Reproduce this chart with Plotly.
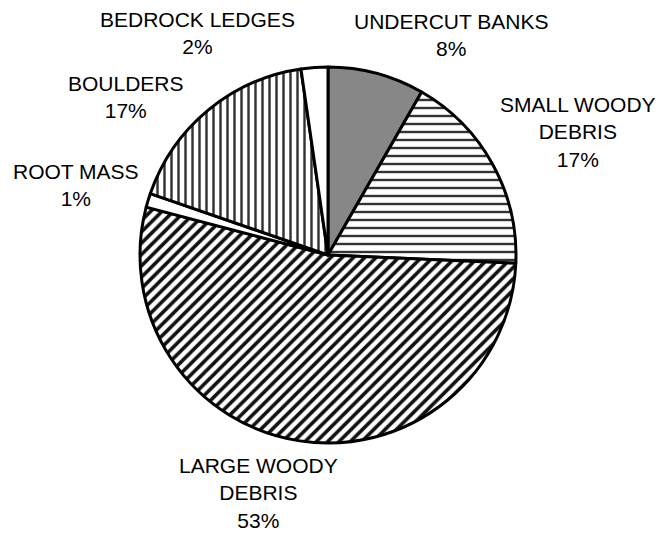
import plotly.graph_objects as go

# Share of cover types (percent), listed clockwise from 12 o'clock
categories = ["UNDERCUT BANKS", "SMALL WOODY DEBRIS", "LARGE WOODY DEBRIS",
              "ROOT MASS", "BOULDERS", "BEDROCK LEDGES"]
label_lines = [["UNDERCUT BANKS"], ["SMALL WOODY", "DEBRIS"], ["LARGE WOODY", "DEBRIS"],
               ["ROOT MASS"], ["BOULDERS"], ["BEDROCK LEDGES"]]
shares = [8.3, 17.4, 53.4, 1.2, 17.4, 2.3]

# Fill styling per slice
pattern_shapes = [".", "-", "/", "", "|", ""]
pattern_sizes = [2, 8, 8, 8, 7, 8]
pattern_solidity = [0.5, 0.3, 0.45, 0.3, 0.35, 0.3]
pattern_fg = ["#3a3a3a", "#333333", "#111111", "#333333", "#333333", "#333333"]
pattern_bg = ["#c4c4c4", "white", "white", "white", "white", "white"]

# Label block centres in paper coordinates (x from left, y from bottom)
label_pos = [(451 / 663, 1 - 35 / 533), (578 / 663, 1 - 132 / 533),
             (258 / 663, 1 - 493 / 533), (76 / 663, 1 - 185 / 533),
             (126 / 663, 1 - 97 / 533), (197 / 663, 1 - 33 / 533)]

FONT = dict(family="Liberation Sans, Arial, sans-serif", size=21, color="black")

fig = go.Figure(go.Pie(
    labels=categories,
    values=shares,
    sort=False,
    direction="clockwise",
    rotation=0,
    textinfo="none",
    marker=dict(
        colors=pattern_bg,
        line=dict(color="black", width=3),
        pattern=dict(
            shape=pattern_shapes,
            size=pattern_sizes,
            solidity=pattern_solidity,
            fgcolor=pattern_fg,
            bgcolor=pattern_bg,
            fillmode="replace",
        ),
    ),
    domain=dict(x=[140 / 663, 516 / 663], y=[90 / 533, 466 / 533]),
    hoverinfo="label+percent",
))

total = sum(shares)
for lines, v, (px, py) in zip(label_lines, shares, label_pos):
    text = "<br>".join(lines + [f"{round(100 * v / total)}%"])
    fig.add_annotation(
        x=px, y=py, xref="paper", yref="paper",
        text=text, showarrow=False, align="center",
        xanchor="center", yanchor="middle", font=FONT,
    )

fig.update_layout(
    width=663, height=533,
    margin=dict(l=0, r=0, t=0, b=0),
    paper_bgcolor="white",
    plot_bgcolor="white",
    showlegend=False,
)

fig.write_html("out.html")
